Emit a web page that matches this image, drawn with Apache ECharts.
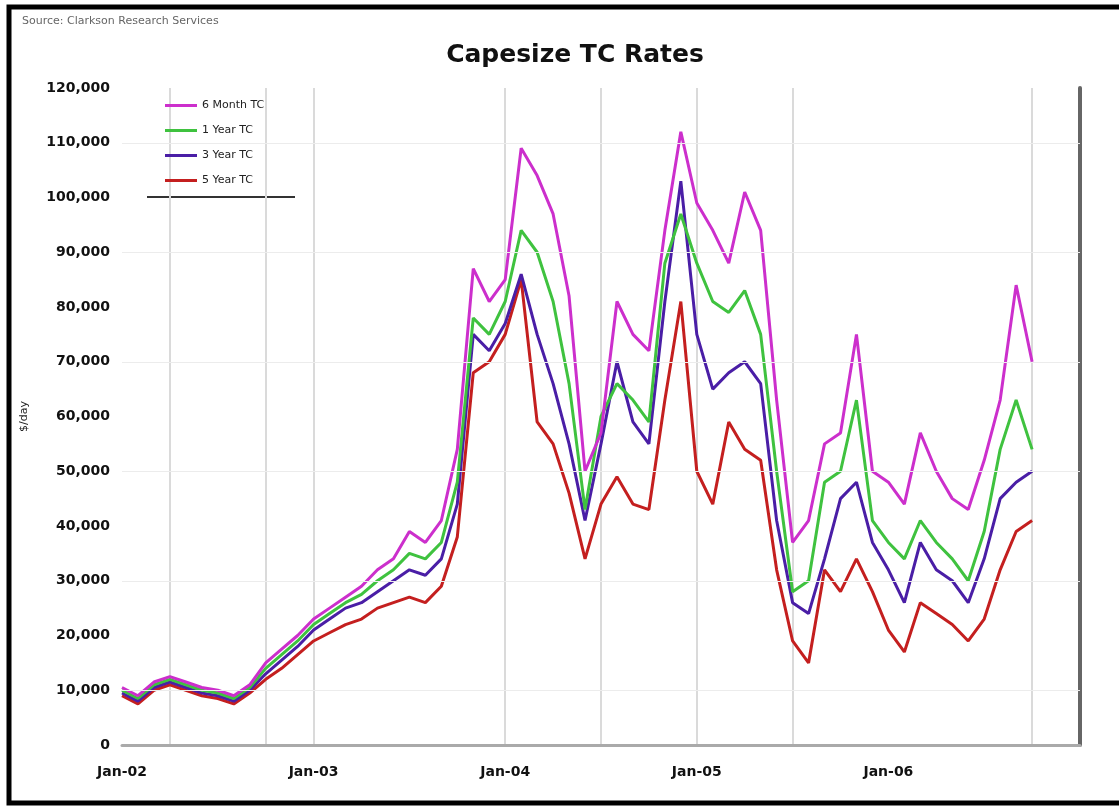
<!DOCTYPE html>
<html>
<head>
<meta charset="utf-8">
<script src="https://cdn.jsdelivr.net/npm/echarts@6/dist/echarts.min.js"></script>
<style>
html, body { margin: 0; padding: 0; background: #fff; }
#chart { width: 1119px; height: 806px; }
</style>
</head>
<body>
<div id="chart"></div>
<script>
// monthly categories, Jan-02 .. Jan-07
const years = ['02', '03', '04', '05', '06', '07'];
const monthNames = ['Jan', 'Feb', 'Mar', 'Apr', 'May', 'Jun', 'Jul', 'Aug', 'Sep', 'Oct', 'Nov', 'Dec'];
const months = [];
years.forEach((y, i) => {
    monthNames.forEach((m) => {
        if (i < years.length - 1 || m === 'Jan') months.push(m + '-' + y);
    });
});

const seriesNames = ['6 Month TC', '1 Year TC', '3 Year TC', '5 Year TC'];

// $/day
const sixMonth = [10500, 9000, 11500, 12500, 11500, 10500, 10000, 9000, 11000, 15000,
    17500, 20000, 23000, 25000, 27000, 29000, 32000, 34000, 39000, 37000,
    41000, 54000, 87000, 81000, 85000, 109000, 104000, 97000, 82000, 50000,
    57000, 81000, 75000, 72000, 94000, 112000, 99000, 94000, 88000, 101000,
    94000, 63000, 37000, 41000, 55000, 57000, 75000, 50000, 48000, 44000,
    57000, 50000, 45000, 43000, 52000, 63000, 84000, 70000];
const oneYear = [10000, 8500, 11000, 12000, 11000, 10000, 9500, 8500, 10500, 14000,
    16500, 19000, 22000, 24000, 26000, 27500, 30000, 32000, 35000, 34000,
    37000, 48000, 78000, 75000, 81000, 94000, 90000, 81000, 66000, 43000,
    60000, 66000, 63000, 59000, 88000, 97000, 88000, 81000, 79000, 83000,
    75000, 50000, 28000, 30000, 48000, 50000, 63000, 41000, 37000, 34000,
    41000, 37000, 34000, 30000, 39000, 54000, 63000, 54000];
const threeYear = [9500, 8000, 10500, 11500, 10500, 9500, 9000, 8000, 10000, 13000,
    15500, 18000, 21000, 23000, 25000, 26000, 28000, 30000, 32000, 31000,
    34000, 44000, 75000, 72000, 77000, 86000, 75000, 66000, 55000, 41000,
    55000, 70000, 59000, 55000, 81000, 103000, 75000, 65000, 68000, 70000,
    66000, 41000, 26000, 24000, 34000, 45000, 48000, 37000, 32000, 26000,
    37000, 32000, 30000, 26000, 34000, 45000, 48000, 50000];
const fiveYear = [9000, 7500, 10000, 11000, 10000, 9000, 8500, 7500, 9500, 12000,
    14000, 16500, 19000, 20500, 22000, 23000, 25000, 26000, 27000, 26000,
    29000, 38000, 68000, 70000, 75000, 85000, 59000, 55000, 46000, 34000,
    44000, 49000, 44000, 43000, 63000, 81000, 50000, 44000, 59000, 54000,
    52000, 32000, 19000, 15000, 32000, 28000, 34000, 28000, 21000, 17000,
    26000, 24000, 22000, 19000, 23000, 32000, 39000, 41000];

const yTicks = [10000, 30000, 50000, 70000, 90000, 110000];
const xGridIdx = [3, 9, 12, 24, 30, 36, 42, 57];
const colors = ['#cc2fcc', '#3fc23f', '#4a1ea6', '#c41f1f'];
const font = 'DejaVu Sans, Verdana, sans-serif';

const chart = echarts.init(document.getElementById('chart'));

function lineSeries(name, data, color) {
    return {
        name: name,
        type: 'line',
        data: data,
        color: color,
        showSymbol: false,
        symbol: 'none',
        lineStyle: { width: 3 }
    };
}

const option = {
    animation: false,
    backgroundColor: '#fff',
    title: {
        text: 'Capesize TC Rates',
        left: 570,
        top: 38,
        textAlign: 'center',
        textStyle: { fontFamily: font, fontSize: 25, fontWeight: 'bold', color: '#111' }
    },
    legend: {
        data: seriesNames,
        orient: 'vertical',
        left: 160,
        top: 95,
        icon: 'rect',
        itemWidth: 32,
        itemHeight: 3,
        itemGap: 14,
        textStyle: { fontFamily: font, fontSize: 11, color: '#222' }
    },
    grid: { left: 122, right: 39, top: 88, bottom: 61 },
    xAxis: {
        type: 'category',
        data: months,
        boundaryGap: false,
        axisLine: { lineStyle: { color: '#aaa', width: 3 } },
        axisTick: { show: false },
        axisLabel: {
            interval: (idx) => idx % 12 === 0 && idx < months.length - 1,
            margin: 20,
            fontFamily: font,
            fontSize: 14,
            fontWeight: 'bold',
            color: '#111'
        },
        splitLine: {
            show: true,
            interval: (idx) => xGridIdx.indexOf(idx) >= 0,
            lineStyle: { color: '#dadada', width: 2 }
        }
    },
    yAxis: [
        {
            type: 'value',
            min: 0,
            max: 120000,
            interval: 10000,
            name: '$/day',
            nameLocation: 'middle',
            nameRotate: 90,
            nameGap: 92,
            nameTextStyle: { fontFamily: font, fontSize: 11, color: '#222' },
            axisLine: { show: false },
            axisTick: { show: false },
            axisLabel: {
                margin: 12,
                fontFamily: font,
                fontSize: 14,
                fontWeight: 'bold',
                color: '#111',
                formatter: (v) => v.toLocaleString('en-US')
            },
            splitLine: { show: false }
        },
        {
            type: 'value',
            position: 'right',
            min: 0,
            max: 120000,
            axisLine: { show: true, lineStyle: { color: '#666', width: 4 } },
            axisTick: { show: false },
            axisLabel: { show: false },
            splitLine: { show: false }
        }
    ],
    graphic: [
        {
            type: 'rect',
            shape: { x: 9, y: 7, width: 1140, height: 796 },
            style: { fill: 'none', stroke: '#000', lineWidth: 5 },
            silent: true
        },
        {
            type: 'text',
            left: 22,
            top: 16,
            style: { text: 'Source: Clarkson Research Services', fontFamily: font, fontSize: 11, fill: '#666' }
        },
        {
            type: 'line',
            shape: { x1: 147, y1: 197, x2: 295, y2: 197 },
            style: { stroke: '#333', lineWidth: 2 }
        }
    ],
    series: [
        Object.assign(lineSeries(seriesNames[3], fiveYear, colors[3]), {
            markLine: {
                silent: true,
                symbol: 'none',
                label: { show: false },
                lineStyle: { color: '#ececec', width: 1, type: 'solid' },
                data: yTicks.map((v) => ({ yAxis: v }))
            }
        }),
        lineSeries(seriesNames[2], threeYear, colors[2]),
        lineSeries(seriesNames[1], oneYear, colors[1]),
        lineSeries(seriesNames[0], sixMonth, colors[0])
    ]
};

chart.setOption(option);
</script>
</body>
</html>
